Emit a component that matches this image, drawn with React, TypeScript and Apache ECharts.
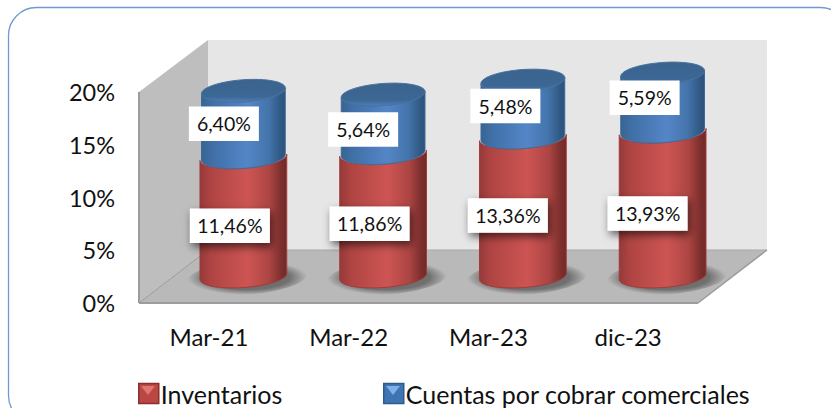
import React, { useEffect, useRef } from "react";
import * as echarts from "echarts";

const categories = ["Mar-21", "Mar-22", "Mar-23", "dic-23"];
const inventarios = [11.46, 11.86, 13.36, 13.93];
const cuentas = [6.4, 5.64, 5.48, 5.59];
const yTicks = { min: 0, max: 20, interval: 5 };
const seriesNames = ["Inventarios", "Cuentas por cobrar comerciales"];

const FONT = "Lato";
const DEPTH_X = 69;
const DEPTH_Y = -53;
const TILT = (-4.2 * Math.PI) / 180;
const MINOR = 11;
// hand placed label offsets, as in the original chart
const RED_NUDGE = [[-13.5, 8.9], [-13.5, 8.9], [-15, 8.5], [-15, 9.4]];
const BLUE_NUDGE = [[-19.5, -0.3], [-20, 5.6], [-17.5, -3], [-18, -4.9]];

const pct = (v: number) => v.toFixed(2).replace(".", ",") + "%";

function arc(cx: number, cy: number, a: number, b: number, t0: number, t1: number, n = 40) {
  const pts: number[][] = [];
  for (let i = 0; i <= n; i++) {
    const t = t0 + ((t1 - t0) * i) / n;
    const x = a * Math.cos(t);
    const y = b * Math.sin(t);
    pts.push([cx + x * Math.cos(TILT) - y * Math.sin(TILT), cy + x * Math.sin(TILT) + y * Math.cos(TILT)]);
  }
  return pts;
}

const sideGrad = (stops: [number, string][]) =>
  new echarts.graphic.LinearGradient(0, 0, 1, 0, stops.map(([offset, color]) => ({ offset, color })));

const redSide = () =>
  sideGrad([[0, "#94393a"], [0.12, "#ae4442"], [0.55, "#cd5553"], [0.8, "#ac4543"], [0.93, "#7f302e"], [1, "#6e2a28"]]);
const blueSide = () =>
  sideGrad([[0, "#38648f"], [0.12, "#406fa6"], [0.55, "#5486c7"], [0.8, "#4474ab"], [0.95, "#2f5882"], [1, "#2c5379"]]);

function wallsItem(params: any) {
  const { x, y, width: w, height: h } = params.coordSys;
  const l = x, r = x + w, t = y, b = y + h;
  const dx = DEPTH_X, dy = DEPTH_Y;
  const poly = (points: number[][], fill: string) => ({
    type: "polygon",
    shape: { points },
    style: { fill, stroke: "none" },
    silent: true,
  });
  const line = (a: number[], c: number[], stroke: string, lineWidth: number) => ({
    type: "line",
    shape: { x1: a[0], y1: a[1], x2: c[0], y2: c[1] },
    style: { stroke, lineWidth },
    silent: true,
  });
  return {
    type: "group",
    children: [
      poly([[l + dx, t + dy + 1], [r + dx, t + dy + 1], [r + dx, b + dy], [l + dx, b + dy]], "#e6e6e6"),
      poly([[l, t], [l + dx, t + dy + 1], [l + dx, b + dy], [l, b]], "#bebebe"),
      poly([[l, b], [l + dx, b + dy], [r + dx, b + dy], [r, b]], "#b9b9b9"),
      line([l + dx, b + dy], [r + dx, b + dy], "#a9a9a9", 1),
      line([l, b], [l + dx, b + dy], "#9a9a9a", 1),
      line([r, b], [r + dx, b + dy], "#9a9a9a", 1.5),
      line([l, t], [l, b], "#9c9c9c", 2),
      line([l, b], [r, b], "#9c9c9c", 2),
    ],
  };
}

function cylinderItem(kind: "red" | "blue") {
  return (params: any, api: any) => {
    const idx = api.value(0);
    const from = api.value(1);
    const to = api.value(2);
    const p0 = api.coord([idx, from]);
    const p1 = api.coord([idx, to]);
    const isRed = kind === "red";
    const a = isRed ? 43.5 : 42;
    const nudge = (isRed ? RED_NUDGE : BLUE_NUDGE)[idx];
    const mid = api.coord([idx, (from + to) / 2]);
    const text = pct(to - from);
    const bw = text.length * 10 + 20;
    const bh = 34.5;
    const cx = mid[0] + nudge[0];
    const cy = mid[1] + nudge[1];

    const lower0 = arc(p0[0], p0[1], a, MINOR, Math.PI, 0, 40);
    const lower1 = arc(p1[0], p1[1], a, MINOR, 0, Math.PI, 40);
    const children: any[] = [];

    if (isRed) {
      children.push({
        type: "polygon",
        shape: { points: arc(p0[0] + 4, p0[1] + 1, a + 17, MINOR + 6, 0, Math.PI * 2, 60) },
        style: {
          fill: new echarts.graphic.RadialGradient(0.5, 0.5, 0.5, [
            { offset: 0, color: "rgba(40,40,40,0.6)" },
            { offset: 0.7, color: "rgba(40,40,40,0.5)" },
            { offset: 1, color: "rgba(40,40,40,0)" },
          ]),
        },
        silent: true,
      });
    }

    children.push({
      type: "polygon",
      shape: { points: [...lower0, ...lower1] },
      style: {
        fill: isRed ? redSide() : blueSide(),
        stroke: isRed ? "#a33b39" : "#3f6d9f",
        lineWidth: 1,
      },
      silent: true,
    });

    if (!isRed) {
      children.push({
        type: "polygon",
        shape: { points: arc(p1[0], p1[1], a, MINOR, 0, Math.PI * 2, 60) },
        style: {
          fill: new echarts.graphic.LinearGradient(0, 0, 0, 1, [
            { offset: 0, color: "#3b638e" },
            { offset: 0.75, color: "#3c6795" },
            { offset: 1, color: "#4d80bb" },
          ]),
          stroke: "#47729f",
          lineWidth: 1,
        },
        silent: true,
      });
    }

    children.push({
      type: "rect",
      shape: { x: cx - bw / 2, y: cy - bh / 2, width: bw, height: bh },
      style: isRed
        ? { fill: "#ffffff", shadowBlur: 9, shadowColor: "rgba(0,0,0,0.6)", shadowOffsetX: 2, shadowOffsetY: 4 }
        : { fill: "#ffffff" },
      silent: true,
    });
    children.push({
      type: "text",
      x: cx,
      y: cy,
      style: {
        text,
        fill: "#111111",
        font: `19.5px ${FONT}`,
        align: "center",
        verticalAlign: "middle",
      },
      silent: true,
    });
    return { type: "group", children };
  };
}

function legendMark(x: number, y: number, light: string) {
  return [
    {
      type: "polygon",
      shape: { points: [[x + 3, y + 3], [x + 17, y + 3], [x + 10, y + 12]] },
      style: { fill: light },
      silent: true,
      z: 50,
    },
  ];
}

export default function App() {
  const ref = useRef<HTMLDivElement>(null);
  useEffect(() => {
    if (!ref.current) return;
    const chart = echarts.init(ref.current, undefined, { renderer: "svg" });
    const red = categories.map((_, i) => [i, 0, inventarios[i]]);
    const blue = categories.map((_, i) => [i, inventarios[i], inventarios[i] + cuentas[i]]);
    const legendBase = {
      top: 381,
      icon: "rect",
      itemWidth: 20,
      itemHeight: 20,
      itemGap: 0,
      padding: 0,
      selectedMode: false,
      textStyle: { fontFamily: FONT, fontSize: 25, color: "#111111", padding: [0, 0, 0, -3] },
    };
    chart.setOption({
      animation: false,
      backgroundColor: "#ffffff",
      grid: [
        { left: 139, top: 92, width: 559, height: 211 },
        { left: 173.5, top: 68.5, width: 559, height: 208 },
      ],
      xAxis: [
        {
          type: "category",
          gridIndex: 0,
          data: categories,
          axisLine: { show: false },
          axisTick: { show: false },
          axisLabel: { fontFamily: FONT, fontSize: 24, color: "#111111", margin: 21 },
        },
        { type: "category", gridIndex: 1, data: categories, show: false },
      ],
      yAxis: [
        {
          type: "value",
          gridIndex: 0,
          ...yTicks,
          axisLine: { show: false },
          axisTick: { show: false },
          splitLine: { show: false },
          axisLabel: {
            fontFamily: FONT,
            fontSize: 23.5,
            color: "#111111",
            margin: 24,
            formatter: (v: number) => v + "%",
          },
        },
        { type: "value", gridIndex: 1, ...yTicks, show: false },
      ],
      legend: [
        { ...legendBase, left: 138, data: [{ name: seriesNames[0], itemStyle: { color: "#bb4744", borderColor: "#8a2f2d", borderWidth: 1.5 } }] },
        { ...legendBase, left: 383, data: [{ name: seriesNames[1], itemStyle: { color: "#3f74b3", borderColor: "#2f5a8c", borderWidth: 1.5 } }] },
      ],
      graphic: {
        elements: [
          {
            type: "rect",
            shape: { x: 8.5, y: 7.5, width: 840, height: 416, r: 28 },
            style: { fill: "none", stroke: "#6f9ad0", lineWidth: 1.3 },
            silent: true,
            z: 40,
          },
          ...legendMark(138, 383, "#dd7571"),
          ...legendMark(383, 383, "#7fb0e8"),
        ],
      },
      series: [
        {
          type: "custom",
          name: "walls",
          xAxisIndex: 0,
          yAxisIndex: 0,
          clip: false,
          silent: true,
          data: [[0, 0]],
          renderItem: wallsItem,
          z: 1,
        },
        {
          type: "custom",
          name: seriesNames[0],
          xAxisIndex: 1,
          yAxisIndex: 1,
          clip: false,
          silent: true,
          encode: { x: 0, y: [1, 2] },
          data: red,
          renderItem: cylinderItem("red"),
          itemStyle: { color: "#b8403e" },
          z: 2,
        },
        {
          type: "custom",
          name: seriesNames[1],
          xAxisIndex: 1,
          yAxisIndex: 1,
          clip: false,
          silent: true,
          encode: { x: 0, y: [1, 2] },
          data: blue,
          renderItem: cylinderItem("blue"),
          itemStyle: { color: "#3f74b3" },
          z: 3,
        },
      ],
    });
    return () => chart.dispose();
  }, []);
  return <div ref={ref} style={{ position: "absolute", left: 0, top: 0, width: 831, height: 408 }} />;
}
